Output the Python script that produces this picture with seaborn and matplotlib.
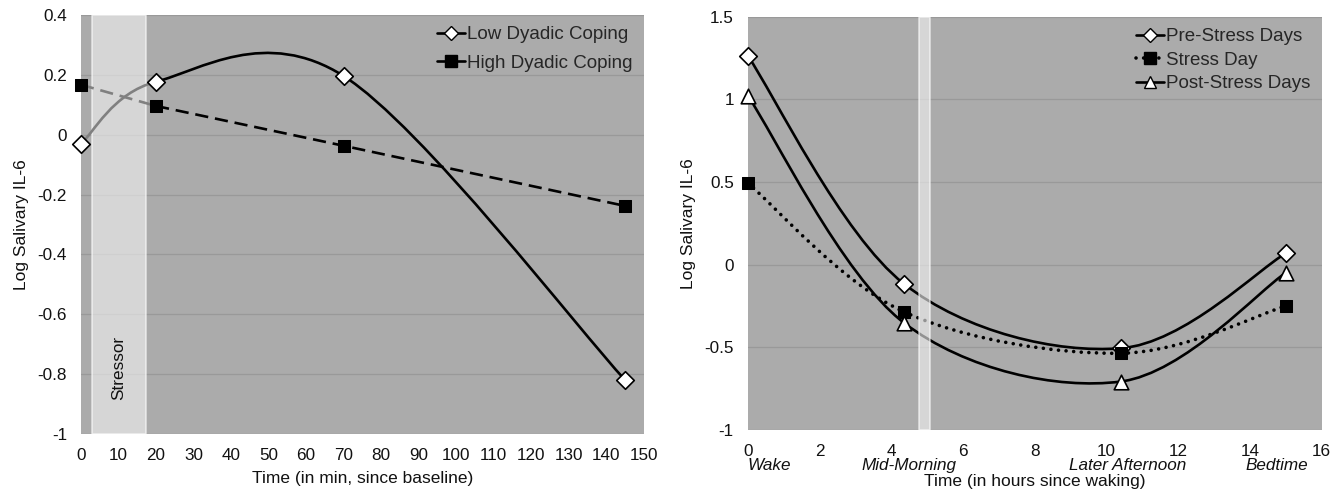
import numpy as np
import pandas as pd
import matplotlib
matplotlib.use("Agg")
import matplotlib.pyplot as plt
import matplotlib.transforms as mtransforms
import seaborn as sns
from matplotlib.path import Path
from matplotlib.patches import PathPatch
from matplotlib.lines import Line2D

# left panel: IL-6 around the lab stressor
lab_minutes = [0, 20, 70, 145]
low_dyadic = [-0.03, 0.177, 0.196, -0.82]
high_dyadic = [0.167, 0.096, -0.037, -0.238]
stressor_span = (3, 17.2)

# right panel: IL-6 across the day
hours_awake = [0, 4.35, 10.4, 15]
pre_stress = [1.264, -0.115, -0.506, 0.069]
stress_day = [0.494, -0.285, -0.536, -0.25]
post_stress = [1.022, -0.351, -0.707, -0.049]
stress_span = (4.77, 5.07)
day_phases = ["Wake", "Mid-Morning", "Later Afternoon", "Bedtime"]
phase_label_x = [0.6, 4.5, 10.6, 14.75]

BG = "#ababab"
BAND = "#f4f4f4"
GRID = "#999999"
TXT = "#111111"

sns.set_theme(style="white")
plt.rcParams["font.family"] = ["Liberation Sans", "DejaVu Sans"]
plt.rcParams["axes.unicode_minus"] = False


def smooth_paths(x, y):
    # excel style smoothed line, one cubic bezier per segment
    pts = np.column_stack([x, y]).astype(float)
    n = len(pts)
    paths = []
    for i in range(n - 1):
        p0 = pts[max(i - 1, 0)]
        p1 = pts[i]
        p2 = pts[i + 1]
        p3 = pts[min(i + 2, n - 1)]
        c1 = p1 + (p2 - p0) / 6
        c2 = p2 - (p3 - p1) / 6
        paths.append(Path([p1, c1, c2, p2],
                          [Path.MOVETO, Path.CURVE4, Path.CURVE4, Path.CURVE4]))
    return paths


def draw_smooth(ax, x, y, colors, ls="-", lw=1.9, z=3):
    for path, c in zip(smooth_paths(x, y), colors):
        ax.add_patch(PathPatch(path, facecolor="none", edgecolor=c, lw=lw,
                               linestyle=ls, zorder=z, capstyle="round"))


def style_axes(ax, xticks, yticks, xlim, ylim):
    ax.set_facecolor(BG)
    ax.set_xlim(*xlim)
    ax.set_ylim(*ylim)
    ax.set_xticks(xticks)
    ax.set_yticks(yticks)
    ax.set_yticklabels([f"{round(v, 2) + 0:g}" for v in yticks])
    ax.set_xticklabels([f"{round(v, 2) + 0:g}" for v in xticks])
    ax.grid(axis="y", color=GRID, lw=0.9)
    ax.grid(axis="x", visible=False)
    ax.set_axisbelow(True)
    for s in ax.spines.values():
        s.set_visible(False)
    ax.tick_params(axis="x", length=0, pad=10, labelsize=12.3, colors=TXT)
    ax.tick_params(axis="y", length=0, pad=10, labelsize=12.3, colors=TXT)


fig = plt.figure(figsize=(13.41, 4.94), dpi=100)
fig.patch.set_facecolor("white")

# ---------------- left panel ----------------
ax1 = fig.add_axes([0.0604, 0.1215, 0.4198, 0.8481])
style_axes(ax1, np.arange(0, 151, 10), np.round(np.arange(-1, 0.41, 0.2), 1), (0, 150), (-1, 0.4))

ax1.axvspan(*stressor_span, facecolor=BAND, alpha=0.6, edgecolor="white", lw=1.2, zorder=1)
ax1.text(np.mean(stressor_span), -0.886, "Stressor", rotation=90, ha="center", va="bottom",
         fontsize=12.3, color=TXT, zorder=2)

low_df = pd.DataFrame({"minutes": lab_minutes, "il6": low_dyadic})
high_df = pd.DataFrame({"minutes": lab_minutes, "il6": high_dyadic})

# low coping: smoothed, grey first segment
draw_smooth(ax1, lab_minutes, low_dyadic, ["#808080", "black", "black"])

# high coping: straight dashed, grey first segment
sns.lineplot(data=high_df.iloc[:2], x="minutes", y="il6", ax=ax1, color="#808080",
             lw=1.9, zorder=3).lines[-1].set_dashes([5, 2.6])
sns.lineplot(data=high_df.iloc[1:], x="minutes", y="il6", ax=ax1, color="black",
             lw=1.9, zorder=3).lines[-1].set_dashes([5, 2.6])

sns.scatterplot(data=low_df, x="minutes", y="il6", ax=ax1, marker="D", s=80,
                facecolor="white", edgecolor="black", linewidth=1.2, zorder=5, clip_on=False)
sns.scatterplot(data=high_df, x="minutes", y="il6", ax=ax1, marker="s", s=85,
                color="black", edgecolor="black", zorder=5, clip_on=False)

ax1.set_xlabel("Time (in min, since baseline)", fontsize=12.5, labelpad=6, color=TXT)
ax1.set_ylabel("Log Salivary IL-6", fontsize=12.5, labelpad=6, color=TXT)

h1 = [Line2D([], [], color="black", lw=1.9, marker="D", ms=7, mfc="white", mec="black"),
      Line2D([], [], color="black", lw=1.9, marker="s", ms=8, mfc="black", mec="black")]
ax1.legend(h1, ["Low Dyadic Coping", "High Dyadic Coping"], loc="upper right",
           frameon=False, fontsize=13.5, handlelength=1.5, handletextpad=0.1,
           borderaxespad=0.2, labelspacing=0.6)

# ---------------- right panel ----------------
ax2 = fig.add_axes([0.5576, 0.1296, 0.4280, 0.8366])
style_axes(ax2, np.arange(0, 17, 2), np.arange(-1, 1.51, 0.5), (0, 16), (-1, 1.5))

draw_smooth(ax2, hours_awake, pre_stress, ["black"] * 3)
draw_smooth(ax2, hours_awake, post_stress, ["black"] * 3)
for path in smooth_paths(hours_awake, stress_day):
    ax2.add_patch(PathPatch(path, facecolor="none", edgecolor="black", lw=2.6,
                            linestyle=(0, (0.01, 2.1)), capstyle="round", zorder=3))

ax2.axvspan(*stress_span, facecolor=BAND, alpha=0.6, edgecolor="white", lw=1.2, zorder=4)

day_df = pd.DataFrame({"hours": hours_awake * 3,
                       "il6": pre_stress + stress_day + post_stress,
                       "day": ["Pre"] * 4 + ["Stress"] * 4 + ["Post"] * 4})
sns.scatterplot(data=day_df[day_df.day == "Pre"], x="hours", y="il6", ax=ax2, marker="D",
                s=80, facecolor="white", edgecolor="black", linewidth=1.2, zorder=5, clip_on=False)
sns.scatterplot(data=day_df[day_df.day == "Stress"], x="hours", y="il6", ax=ax2, marker="s",
                s=85, color="black", edgecolor="black", zorder=5, clip_on=False)
sns.scatterplot(data=day_df[day_df.day == "Post"], x="hours", y="il6", ax=ax2, marker="^",
                s=110, facecolor="white", edgecolor="black", linewidth=1.2, zorder=5, clip_on=False)

trans = mtransforms.blended_transform_factory(ax2.transData, ax2.transAxes)
for lbl, xp in zip(day_phases, phase_label_x):
    ax2.text(xp, -0.085, lbl, transform=trans, ha="center", va="center",
             fontsize=12.3, style="italic", color=TXT)

ax2.set_xlabel("Time (in hours since waking)", fontsize=12.5, labelpad=11, color=TXT)
ax2.set_ylabel("Log Salivary IL-6", fontsize=12.5, labelpad=6, color=TXT)

h2 = [Line2D([], [], color="black", lw=1.9, marker="D", ms=7, mfc="white", mec="black"),
      Line2D([], [], color="black", lw=2.6, ls=(0, (0.01, 2.1)), dash_capstyle="round",
             marker="s", ms=8, mfc="black", mec="black"),
      Line2D([], [], color="black", lw=1.9, marker="^", ms=8.5, mfc="white", mec="black")]
ax2.legend(h2, ["Pre-Stress Days", "Stress Day", "Post-Stress Days"], loc="upper right",
           frameon=False, fontsize=13.5, handlelength=1.5, handletextpad=0.1,
           borderaxespad=0.2, labelspacing=0.35)

fig.savefig("out.png", dpi=100)
